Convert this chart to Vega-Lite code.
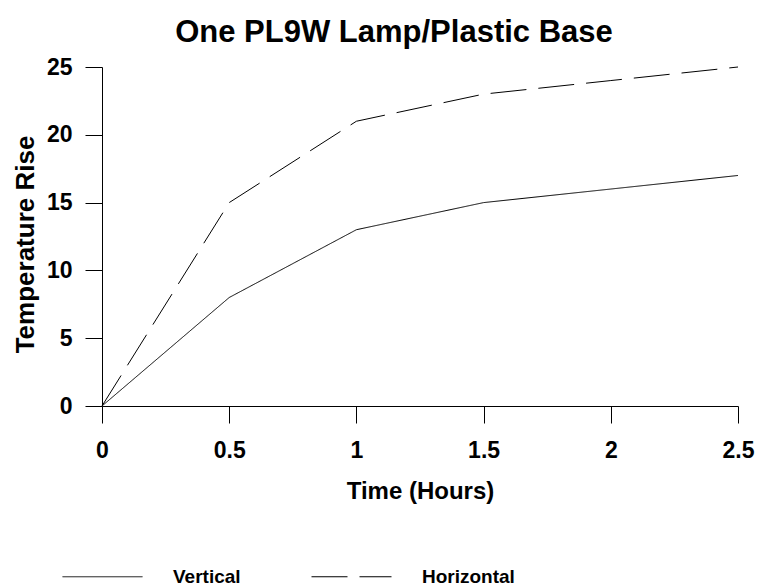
{
  "$schema": "https://vega.github.io/schema/vega-lite/v6.json",
  "width": 636,
  "height": 339,
  "autosize": {"type": "none"},
  "padding": {"left": 102, "top": 67, "right": 20, "bottom": 182},
  "background": "white",
  "config": {
    "view": {"stroke": null},
    "font": "Liberation Sans"
  },
  "title": {
    "text": "One PL9W Lamp/Plastic Base",
    "font": "Liberation Sans",
    "fontSize": 31,
    "fontWeight": "bold",
    "color": "black",
    "anchor": "middle",
    "frame": "group",
    "offset": 7,
    "dx": -26
  },
  "data": {
    "values": [
      {"time": 0, "rise": 0, "series": "Vertical"},
      {"time": 0.5, "rise": 8, "series": "Vertical"},
      {"time": 1, "rise": 13, "series": "Vertical"},
      {"time": 1.5, "rise": 15, "series": "Vertical"},
      {"time": 2, "rise": 16, "series": "Vertical"},
      {"time": 2.5, "rise": 17, "series": "Vertical"},
      {"time": 0, "rise": 0, "series": "Horizontal"},
      {"time": 0.5, "rise": 15, "series": "Horizontal"},
      {"time": 1, "rise": 21, "series": "Horizontal"},
      {"time": 1.5, "rise": 23, "series": "Horizontal"},
      {"time": 2, "rise": 24, "series": "Horizontal"},
      {"time": 2.5, "rise": 25, "series": "Horizontal"}
    ]
  },
  "mark": {"type": "line", "color": "black", "strokeWidth": 1},
  "encoding": {
    "x": {
      "field": "time",
      "type": "quantitative",
      "scale": {"domain": [0, 2.5], "nice": false, "zero": false},
      "axis": {
        "title": "Time (Hours)",
        "values": [0, 0.5, 1, 1.5, 2, 2.5],
        "format": "~g",
        "grid": false,
        "domainColor": "black",
        "tickColor": "black",
        "tickSize": 17,
        "labelFontSize": 23,
        "labelFontWeight": "bold",
        "labelColor": "black",
        "labelPadding": 16,
        "labelFlush": false,
        "titleFontSize": 24,
        "titleFontWeight": "bold",
        "titleColor": "black",
        "titleBaseline": "alphabetic",
        "titleY": 92
      }
    },
    "y": {
      "field": "rise",
      "type": "quantitative",
      "scale": {"domain": [0, 25], "nice": false},
      "axis": {
        "title": "Temperature Rise",
        "values": [0, 5, 10, 15, 20, 25],
        "grid": false,
        "domainColor": "black",
        "tickColor": "black",
        "tickSize": 17,
        "labelFontSize": 23,
        "labelFontWeight": "bold",
        "labelColor": "black",
        "labelPadding": 13,
        "labelFlush": false,
        "titleFontSize": 26,
        "titleFontWeight": "bold",
        "titleColor": "black",
        "titleBaseline": "alphabetic",
        "titleX": -69,
        "titleY": 177
      }
    },
    "strokeDash": {
      "field": "series",
      "type": "nominal",
      "scale": {"domain": ["Vertical", "Horizontal"], "range": [[1, 0], [36, 12]]},
      "legend": {
        "title": null,
        "orient": "none",
        "direction": "horizontal",
        "legendX": -40,
        "legendY": 469,
        "symbolType": "stroke",
        "symbolSize": 6400,
        "symbolStrokeWidth": 1,
        "symbolStrokeColor": "black",
        "labelFontSize": 19,
        "labelFontWeight": "bold",
        "labelColor": "black",
        "labelOffset": 30,
        "columnPadding": 68
      }
    }
  }
}
